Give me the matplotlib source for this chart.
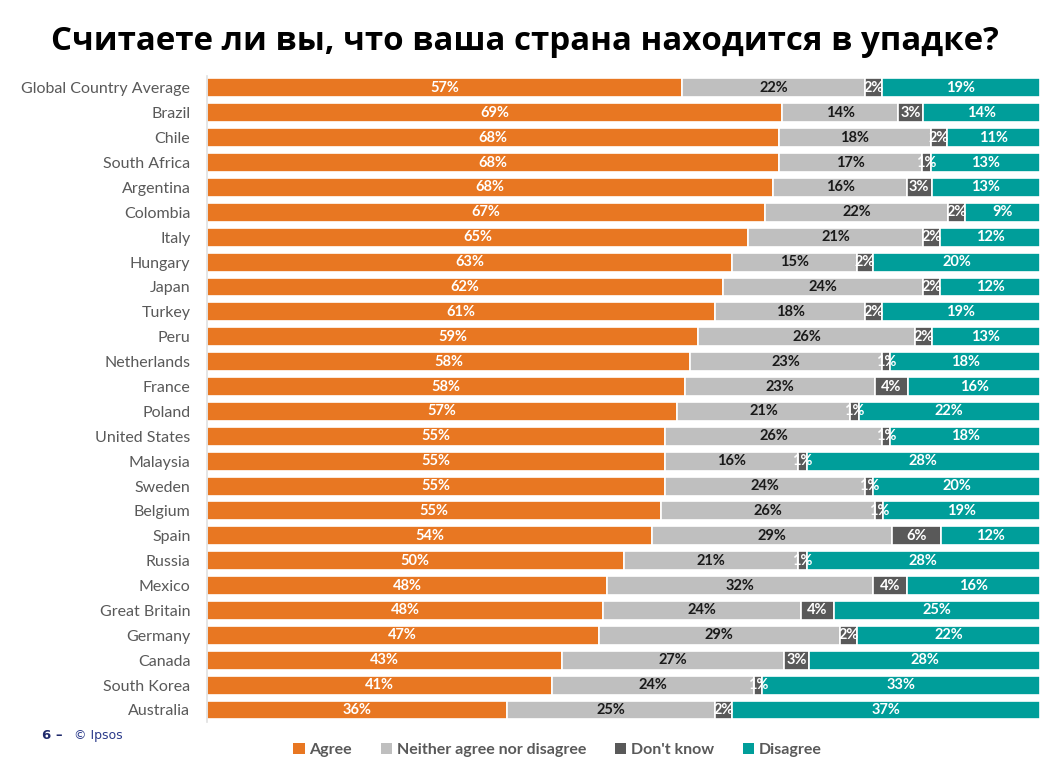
import numpy as np
import matplotlib.pyplot as plt
from matplotlib.patches import Patch

countries = ["Global Country Average", "Brazil", "Chile", "South Africa", "Argentina",
             "Colombia", "Italy", "Hungary", "Japan", "Turkey", "Peru", "Netherlands",
             "France", "Poland", "United States", "Malaysia", "Sweden", "Belgium", "Spain",
             "Russia", "Mexico", "Great Britain", "Germany", "Canada", "South Korea", "Australia"]
agree = [57, 69, 68, 68, 68, 67, 65, 63, 62, 61, 59, 58, 58, 57, 55, 55, 55, 55, 54, 50, 48, 48, 47, 43, 41, 36]
neither = [22, 14, 18, 17, 16, 22, 21, 15, 24, 18, 26, 23, 23, 21, 26, 16, 24, 26, 29, 21, 32, 24, 29, 27, 24, 25]
dont_know = [2, 3, 2, 1, 3, 2, 2, 2, 2, 2, 2, 1, 4, 1, 1, 1, 1, 1, 6, 1, 4, 4, 2, 3, 1, 2]
disagree = [19, 14, 11, 13, 13, 9, 12, 20, 12, 19, 13, 18, 16, 22, 18, 28, 20, 19, 12, 28, 16, 25, 22, 28, 33, 37]

series = ["Agree", "Neither agree nor disagree", "Don't know", "Disagree"]
colors = ["#E87722", "#BFBFBF", "#595959", "#009E9A"]
text_colors = ["white", "#1a1a1a", "white", "white"]

data = np.array([agree, neither, dont_know, disagree], dtype=float)
shares = data / data.sum(axis=0) * 100

fig = plt.figure(figsize=(10.52, 7.72), dpi=100)
ax = fig.add_axes([0.1968, 0.0642, 0.7918, 0.838])

y = np.arange(len(countries))
left = np.zeros(len(countries))
for i, name in enumerate(series):
    ax.barh(y, shares[i], left=left, height=0.76, color=colors[i],
            edgecolor="white", linewidth=1.2, label=name)
    for j in range(len(countries)):
        ax.text(left[j] + shares[i][j] / 2, y[j], f"{int(data[i][j])}%",
                ha="center", va="center", fontsize=10.5, fontweight="bold",
                color=text_colors[i], family="Lato")
    left += shares[i]

ax.set_xlim(0, 100)
ax.set_ylim(len(countries) - 0.5, -0.5)
ax.set_yticks(y)
ax.set_yticklabels(countries, fontsize=11.5, color="#595959", family="Lato")
ax.tick_params(axis="y", length=0, pad=12)
ax.set_xticks([])
for s in ["top", "right", "bottom"]:
    ax.spines[s].set_visible(False)
ax.spines["left"].set_color("#E0E0E0")
ax.spines["left"].set_linewidth(1.2)

fig.text(0.499, 0.946, "Считаете ли вы, что ваша страна находится в упадке?",
         ha="center", va="center", fontsize=23.8, fontweight="bold",
         family="Open Sans", color="black")

fig.text(0.04, 0.047, "6 –", fontsize=9.5, fontweight="bold", color="#1F2A6B", va="center")
fig.text(0.07, 0.047, "© Ipsos", fontsize=9, color="#2A3A8A", va="center")

handles = [Patch(facecolor=c, label=s) for c, s in zip(colors, series)]
fig.legend(handles=handles, loc="center", bbox_to_anchor=(0.53, 0.029), ncol=4,
           frameon=False, handlelength=0.7, handleheight=0.7, handletextpad=0.3,
           columnspacing=1.8, prop={"family": "Lato", "weight": "bold", "size": 11.5},
           labelcolor="#595959")

fig.savefig("out.png", dpi=100)
